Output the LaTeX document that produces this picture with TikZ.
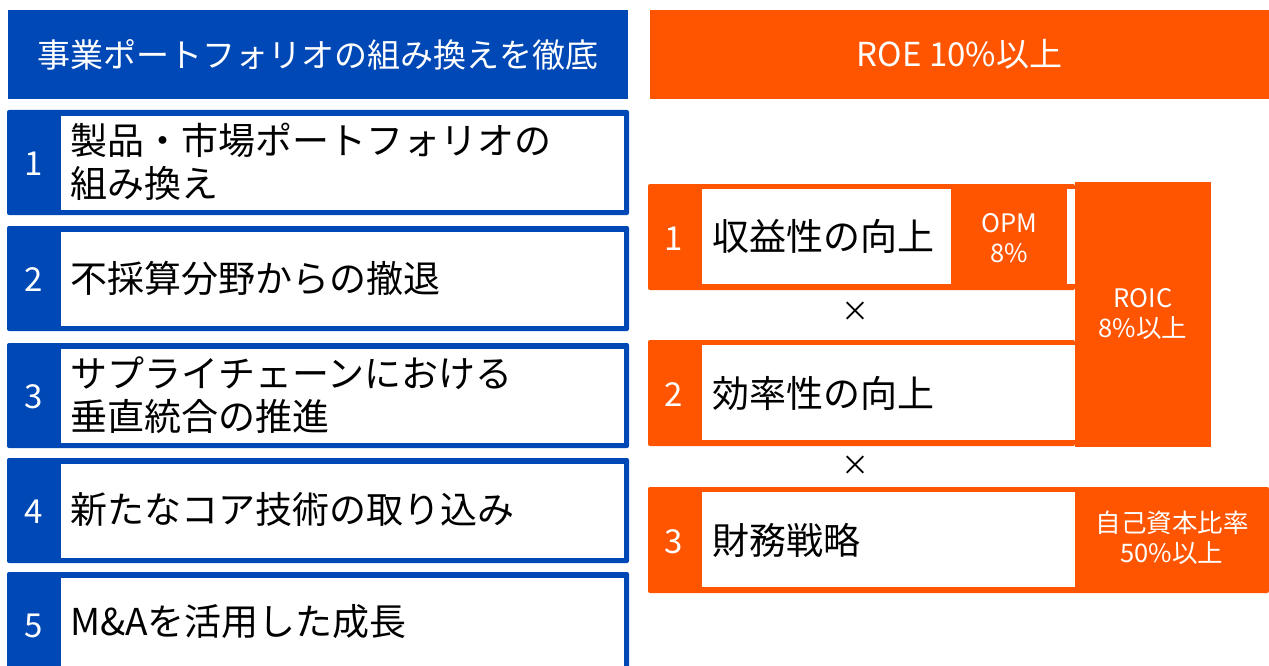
\documentclass[tikz,border=0pt]{standalone}
\usepackage{fontspec}
\setmainfont{Noto Sans CJK JP}
\definecolor{portblue}{RGB}{0,72,181}
\definecolor{roeorange}{RGB}{255,85,0}
\def\BlueItem#1#2{\fill [portblue,rounded corners=2pt] (7,#1) rectangle (629,#1+105);
  \fill [white] (61,#1+6) rectangle (624,#1+100);
  \node [num] (bn#2) at (34,#1+54) {#2};}
\def\OrangeItem#1#2#3{\fill [roeorange,rounded corners=2pt] (648,#1) rectangle (#2,#1+106);
  \fill [white] (702,#1+5) rectangle (1075,#1+100);
  \node [num] (on#3) at (674,#1+55) {#3};}

\begin{document}
\begin{tikzpicture}[x=1pt,y=-1pt,
    num/.style={text=white,inner sep=0pt,font=\fontsize{33}{36}\selectfont},
    item/.style={anchor=west,align=left,inner sep=0pt,font=\fontsize{37}{43}\selectfont},
    head/.style={text=white,minimum height=89pt,inner sep=0pt,font=\fontsize{33}{38}\selectfont},
    small/.style={text=white,align=center,inner sep=0pt,font=\fontsize{25.5}{30}\selectfont}]
\useasboundingbox (0,0) rectangle (1269,666);
\clip (0,0) rectangle (1269,666);
% left column
\node [head,fill=portblue,minimum width=620pt] (lhead) at (318,54.5) {事業ポートフォリオの組み換えを徹底};
\BlueItem{110}{1} \BlueItem{226}{2} \BlueItem{343}{3} \BlueItem{458}{4} \BlueItem{572}{5}
\node [item] (t1) at (70,162) {製品・市場ポートフォリオの\\組み換え};
\node [item] (t2) at (70,278) {不採算分野からの撤退};
\node [item] (t3) at (70,395) {サプライチェーンにおける\\垂直統合の推進};
\node [item] (t4) at (70,510) {新たなコア技術の取り込み};
\node [item] (t5) at (70,622) {M\&Aを活用した成長};
% right column
\node [head,fill=roeorange,minimum width=619pt] (rhead) at (959.5,54.5) {ROE 10\%以上};
\OrangeItem{184}{1075}{1} \OrangeItem{340}{1075}{2} \OrangeItem{487}{1269}{3}
\fill [roeorange] (951,184) rectangle (1067,290);
\fill [roeorange] (1075,182) rectangle (1211,447);
\node [item] (r1) at (712,236) {収益性の向上};
\node [item] (r2) at (712,393) {効率性の向上};
\node [item] (r3) at (712,540) {財務戦略};
\node [small] (opm) at (1009,238) {OPM\\8\%};
\node [small] (roic) at (1143,314) {ROIC\\8\%以上};
\node [small] (equity) at (1172,538) {自己資本比率\\50\%以上};
\node [font=\fontsize{28}{30}\selectfont,inner sep=0pt] (x1) at (855,312) {×};
\node [font=\fontsize{28}{30}\selectfont,inner sep=0pt] (x2) at (855,466) {×};
\end{tikzpicture}
\end{document}
